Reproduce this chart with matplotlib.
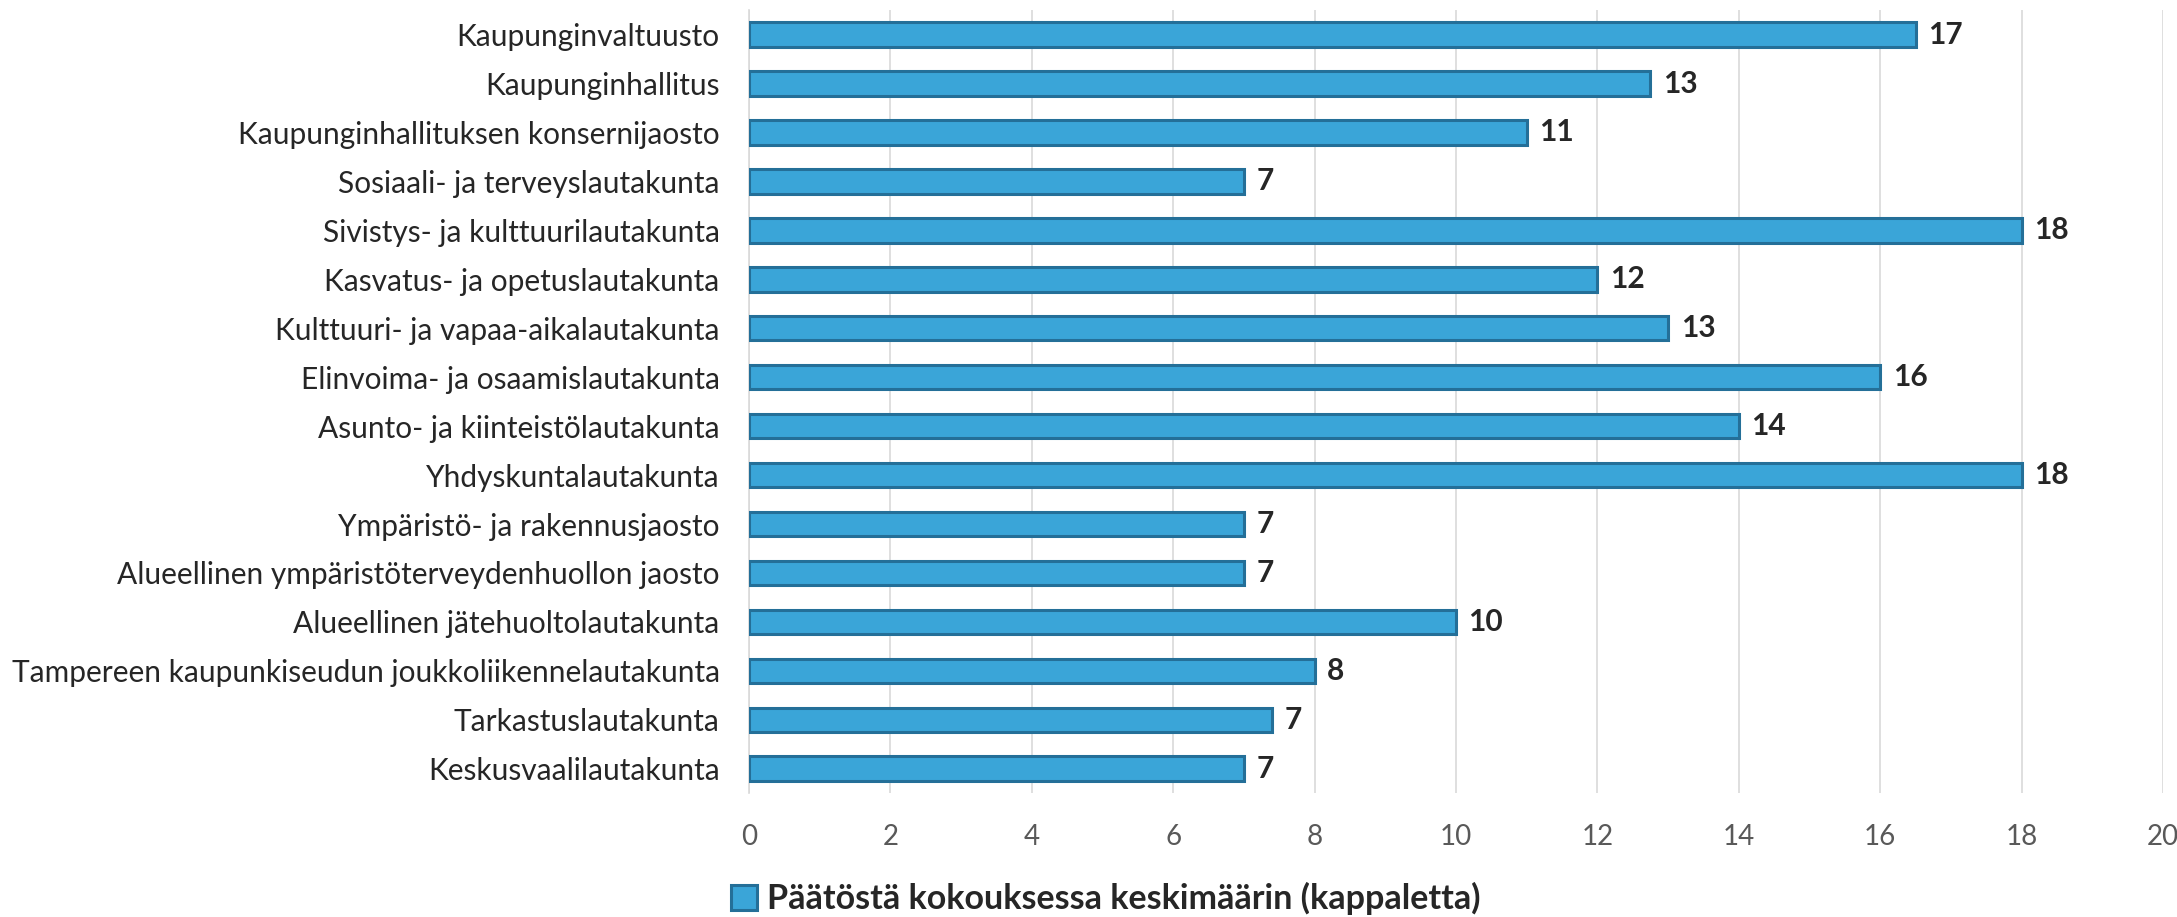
import matplotlib
matplotlib.use("Agg")
from matplotlib import pyplot as plt
from matplotlib.patches import Patch

categories = [
    "Kaupunginvaltuusto",
    "Kaupunginhallitus",
    "Kaupunginhallituksen konsernijaosto",
    "Sosiaali- ja terveyslautakunta",
    "Sivistys- ja kulttuurilautakunta",
    "Kasvatus- ja opetuslautakunta",
    "Kulttuuri- ja vapaa-aikalautakunta",
    "Elinvoima- ja osaamislautakunta",
    "Asunto- ja kiinteistölautakunta",
    "Yhdyskuntalautakunta",
    "Ympäristö- ja rakennusjaosto",
    "Alueellinen ympäristöterveydenhuollon jaosto",
    "Alueellinen jätehuoltolautakunta",
    "Tampereen kaupunkiseudun joukkoliikennelautakunta",
    "Tarkastuslautakunta",
    "Keskusvaalilautakunta",
]
values = [16.5, 12.75, 11.0, 7.0, 18.0, 12.0, 13.0, 16.0, 14.0, 18.0,
          7.0, 7.0, 10.0, 8.0, 7.4, 7.0]
value_labels = ["17", "13", "11", "7", "18", "12", "13", "16", "14", "18",
                "7", "7", "10", "8", "7", "7"]
legend_label = "Päätöstä kokouksessa keskimäärin (kappaletta)"
x_ticks = list(range(0, 21, 2))

plt.rcParams["font.family"] = ["Lato", "DejaVu Sans"]

fill_color = "#3AA5D8"
edge_color = "#246F98"
text_color = "#262626"
tick_color = "#595959"

fig = plt.figure(figsize=(21.77, 9.17), dpi=100)
ax = fig.add_axes([0.344, 0.135, 0.6496, 0.854])

positions = list(range(len(categories)))
ax.barh(positions, values, height=0.5, color=fill_color,
        edgecolor=edge_color, linewidth=2.2, zorder=3)

for pos, val, lab in zip(positions, values, value_labels):
    ax.annotate(lab, xy=(val, pos), xytext=(9, 0), textcoords="offset points",
                va="center", ha="left", fontsize=21.5, fontweight="bold",
                color=text_color)

ax.set_ylim(len(categories) - 0.5, -0.5)
ax.set_yticks(positions)
ax.set_yticklabels(categories, fontsize=21.5, color=text_color)
ax.set_xlim(0, 20)
ax.set_xticks(x_ticks)
ax.set_xticklabels([str(t) for t in x_ticks], fontsize=20, color=tick_color)

ax.tick_params(axis="both", length=0)
ax.tick_params(axis="y", pad=21)
ax.tick_params(axis="x", pad=22)
ax.grid(axis="x", color="#D9D9D9", linewidth=1.2, zorder=0)
for side in ["top", "right", "bottom"]:
    ax.spines[side].set_visible(False)
ax.spines["left"].set_color("#D9D9D9")
ax.spines["left"].set_linewidth(1.2)

handle = Patch(facecolor=fill_color, edgecolor=edge_color, linewidth=2.2)
fig.legend([handle], [legend_label], loc="center", bbox_to_anchor=(0.508, 0.02),
           frameon=False, handlelength=0.75, handleheight=0.75, handletextpad=0.3,
           prop={"size": 24.5, "weight": "bold"})
for t in fig.legends[0].get_texts():
    t.set_color(text_color)

fig.savefig("out.png", dpi=100)
